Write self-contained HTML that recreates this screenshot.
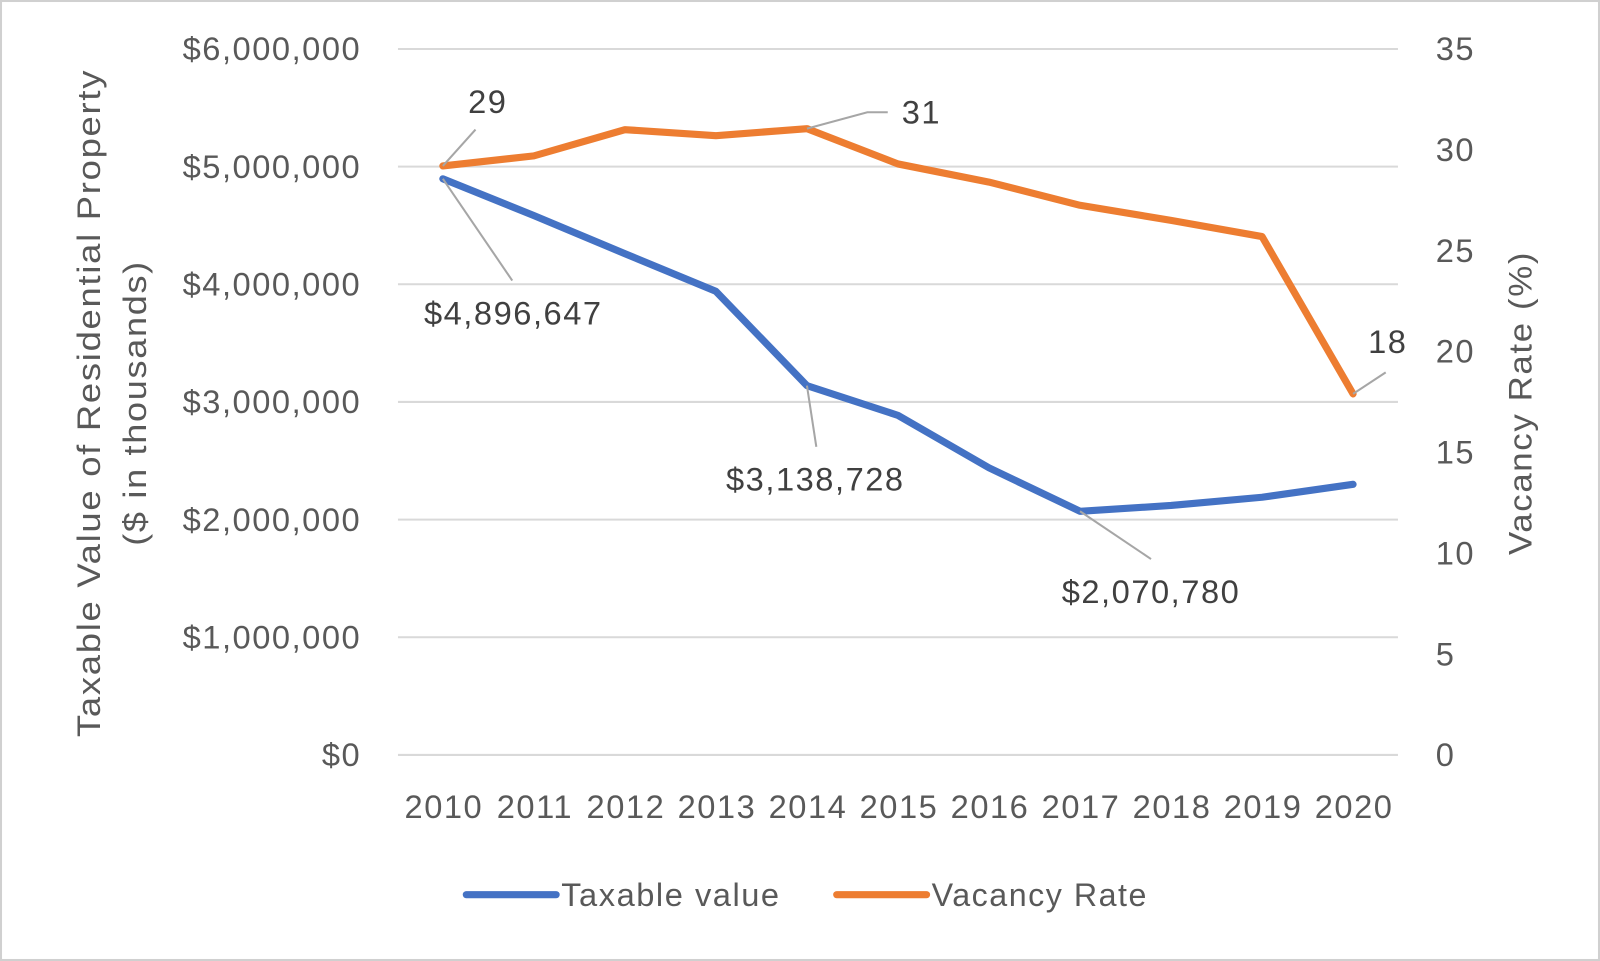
<!DOCTYPE html>
<html><head><meta charset="utf-8"><style>
html,body{margin:0;padding:0;background:#fff;}
svg{display:block;font-family:"Liberation Sans",sans-serif;}
svg text{letter-spacing:1.5px;}
</style></head><body>
<svg id="chart" width="1600" height="961" viewBox="0 0 1568 942" preserveAspectRatio="none">
<rect x="1" y="1" width="1566" height="940" fill="#fff" stroke="#d0d0d0" stroke-width="2"/>
<g id="grid"></g><g id="axes"></g><g id="series"></g><g id="labels"></g>
<text transform="translate(98,395) rotate(-90)" text-anchor="middle" font-size="32" fill="#595959" textLength="655" lengthAdjust="spacingAndGlyphs">Taxable Value of Residential Property</text>
<text transform="translate(143,395) rotate(-90)" text-anchor="middle" font-size="32" fill="#595959" textLength="280" lengthAdjust="spacingAndGlyphs">($ in thousands)</text>
<text transform="translate(1501,395) rotate(-90)" text-anchor="middle" font-size="32" fill="#595959" textLength="298" lengthAdjust="spacingAndGlyphs">Vacancy Rate (%)</text>
<g>
<line x1="457" y1="877" x2="545" y2="877" stroke="#4472C4" stroke-width="7" stroke-linecap="round"/>
<text x="550" y="888" font-size="32" fill="#595959" textLength="215" lengthAdjust="spacingAndGlyphs">Taxable value</text>
<line x1="820" y1="877" x2="908" y2="877" stroke="#ED7D31" stroke-width="7" stroke-linecap="round"/>
<text x="913" y="888" font-size="32" fill="#595959" textLength="212" lengthAdjust="spacingAndGlyphs">Vacancy Rate</text>
</g>
</svg>
<script>
const years = ["2010","2011","2012","2013","2014","2015","2016","2017","2018","2019","2020"];
const taxable = [4896647,4584000,4260000,3940000,3138728,2886000,2440000,2070780,2120000,2190000,2300000];
const vacancy = [29.2,29.7,31.0,30.7,31.05,29.3,28.4,27.25,26.5,25.7,17.9];
const leftTicks = [0,1000000,2000000,3000000,4000000,5000000,6000000];
const leftTickLabels = ["$0","$1,000,000","$2,000,000","$3,000,000","$4,000,000","$5,000,000","$6,000,000"];
const rightTicks = [0,5,10,15,20,25,30,35];
const valueLabels = ["$4,896,647","$3,138,728","$2,070,780"];
const NS="http://www.w3.org/2000/svg";
const X0=434,X1=1326,YT=48,YB=740;
const x=i=>X0+(X1-X0)*i/(years.length-1);
const yL=v=>YB-(YB-YT)*v/6000000;
const yR=v=>YB-(YB-YT)*v/35;
function mk(tag,attrs,parent,txt){const e=document.createElementNS(NS,tag);for(const k in attrs)e.setAttribute(k,attrs[k]);if(txt!==undefined)e.textContent=txt;document.getElementById(parent).appendChild(e);return e;}
leftTicks.forEach((t,i)=>{
 const g=mk('line',{x1:390,x2:1370,y1:yL(t),y2:yL(t),stroke:'#d9d9d9','stroke-width':2},'grid');
 
 
 const l=mk('text',{x:354,y:yL(t)+11,'text-anchor':'end','font-size':32,fill:'#595959'},'axes',leftTickLabels[i]);
 
 
});
rightTicks.forEach(t=>{
 const l=mk('text',{x:1407,y:yR(t)+11,'font-size':32,fill:'#595959'},'axes',String(t));
 
 
});
years.forEach((yr,i)=>{
 const l=mk('text',{x:x(i)+1,y:802,'text-anchor':'middle','font-size':32,fill:'#595959'},'axes',yr);
 
 
});
const p1=mk('polyline',{points:taxable.map((v,i)=>x(i)+','+yL(v)).join(' '),fill:'none',stroke:'#4472C4','stroke-width':7,'stroke-linejoin':'round','stroke-linecap':'round'},'series');


const p2=mk('polyline',{points:vacancy.map((v,i)=>x(i)+','+yR(v)).join(' '),fill:'none',stroke:'#ED7D31','stroke-width':7,'stroke-linejoin':'round','stroke-linecap':'round'},'series');


function ann(pts,tx,ty,txt,name){
 const pl=mk('polyline',{points:pts.map(p=>p.join(',')).join(' '),fill:'none',stroke:'#a6a6a6','stroke-width':2},'labels');
 
 
 const t=mk('text',{x:tx,y:ty,'text-anchor':'middle','font-size':32,fill:'#404040'},'labels',txt);
 
 
}
ann([[x(0),yR(vacancy[0])],[466,127]],478,111,String(Math.round(vacancy[0])),'label-vacancy-2010');
ann([[x(4),yR(vacancy[4])],[850,110],[870,110]],903,121,String(Math.round(vacancy[4])),'label-vacancy-2014');
ann([[x(10),yR(vacancy[10])],[1358,365]],1360,346,String(Math.round(vacancy[10])),'label-vacancy-2020');
ann([[x(0),yL(taxable[0])],[502,275]],503,318,valueLabels[0],'label-taxable-2010');
ann([[x(4),yL(taxable[4])],[800,438]],799,481,valueLabels[1],'label-taxable-2014');
ann([[x(7),yL(taxable[7])],[1128,548]],1128,591,valueLabels[2],'label-taxable-2017');
</script>
</body></html>
